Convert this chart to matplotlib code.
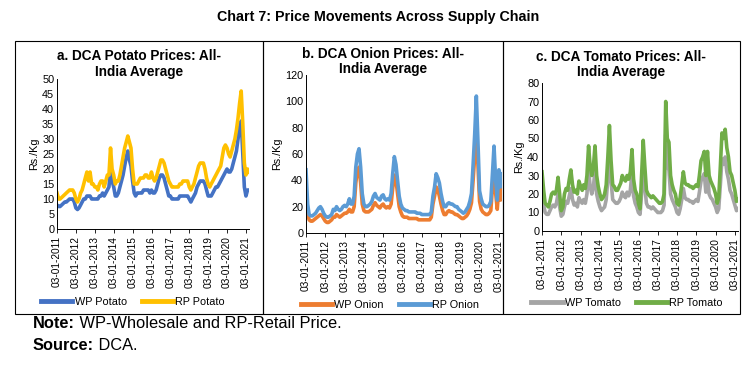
import pandas as pd
import matplotlib.pyplot as plt
import matplotlib.dates as mdates
from matplotlib.patches import Rectangle
from matplotlib.text import Annotation

plt.rcParams['font.family'] = ['Liberation Sans', 'DejaVu Sans']

# monthly points, Jan 2011 - Mar 2021
dates = pd.date_range('2011-01-01', '2021-03-01', freq='MS')

wp_potato = [8, 7.5, 7.5, 8, 8.5, 9, 9, 9.5, 10, 10, 10, 9,
             7, 6.5, 7, 8, 9, 10, 10, 11, 11, 11, 10, 10,
             10, 10, 10, 11, 11, 12, 11, 12, 13, 14, 20, 16,
             14, 11, 11, 12, 14, 16, 18, 21, 24, 26, 23, 21,
             16, 12, 11, 12, 12, 12, 12, 13, 13, 13, 13, 12,
             13, 12, 12, 13, 15, 17, 18, 18, 17, 15, 13, 11,
             11, 10, 10, 10, 10, 10, 11, 11, 11, 11, 11, 11,
             10, 9, 10, 11, 12, 14, 15, 16, 16, 16, 15, 13,
             11, 11, 11, 12, 13, 14, 14, 15, 16, 17, 18, 19,
             20, 19, 19, 20, 22, 24, 26, 30, 34, 36, 25, 14,
             11, 13, 13]
rp_potato = [12, 10, 10, 10.5, 11, 11.5, 12, 12.5, 13, 13, 13, 12,
             10, 9, 10, 12, 13, 15, 17, 19, 16, 19, 15, 15,
             14, 14, 13, 15, 16, 16, 14, 16, 18, 18, 27, 20,
             18, 15, 16, 16, 18, 21, 24, 27, 29, 31, 29, 27,
             20, 15, 15, 15, 16, 17, 17, 17, 18, 18, 17, 17,
             19, 17, 16, 17, 19, 21, 23, 23, 22, 20, 18, 16,
             15, 14, 14, 14, 14, 14, 15, 15, 16, 16, 16, 16,
             14, 13, 14, 15, 17, 19, 21, 22, 22, 22, 20, 17,
             15, 14, 15, 16, 17, 18, 19, 20, 21, 24, 27, 28,
             27, 25, 24, 26, 28, 30, 33, 37, 42, 46, 35, 22,
             18, 20, 19]

wp_onion = [30, 15, 10, 9, 9, 10, 11, 12, 13, 14, 13, 11,
            9, 8, 8, 9, 10, 12, 12, 14, 13, 12, 13, 14,
            15, 15, 16, 18, 16, 16, 20, 38, 48, 50, 38, 22,
            17, 16, 16, 16, 17, 18, 21, 23, 21, 20, 19, 21,
            22, 20, 19, 20, 19, 22, 34, 44, 40, 30, 20, 16,
            13, 12, 12, 12, 11, 11, 11, 11, 11, 11, 10, 10,
            10, 10, 10, 10, 10, 10, 12, 22, 28, 35, 33, 28,
            22, 17, 14, 14, 16, 17, 16, 16, 15, 14, 14, 13,
            12, 11, 11, 12, 13, 15, 18, 23, 40, 58, 80, 52,
            24, 18, 16, 15, 14, 14, 15, 17, 34, 50, 30, 18,
            35, 25, 33]
rp_onion = [48, 22, 14, 13, 13, 14, 15, 17, 19, 20, 18, 15,
            13, 12, 12, 13, 14, 18, 17, 20, 18, 17, 18, 20,
            21, 20, 22, 26, 22, 22, 28, 50, 60, 64, 50, 30,
            22, 20, 20, 21, 22, 24, 28, 30, 27, 26, 25, 28,
            29, 26, 25, 26, 25, 30, 45, 58, 52, 40, 28, 22,
            19, 18, 17, 17, 16, 16, 16, 16, 16, 15, 15, 15,
            14, 14, 14, 14, 14, 14, 16, 28, 35, 45, 42, 38,
            30, 24, 20, 20, 22, 23, 22, 22, 21, 20, 20, 18,
            17, 16, 15, 16, 18, 20, 24, 30, 52, 75, 104, 70,
            32, 26, 22, 21, 20, 20, 21, 24, 45, 66, 40, 25,
            48, 35, 45]

wp_tomato = [21, 14, 10, 9, 9, 11, 13, 14, 13, 15, 20, 13,
             8, 9, 13, 16, 15, 19, 23, 17, 14, 15, 13, 18,
             16, 15, 17, 15, 20, 33, 24, 20, 24, 33, 20, 16,
             13, 11, 12, 13, 17, 28, 42, 27, 17, 16, 15, 15,
             16, 18, 21, 19, 18, 21, 19, 22, 32, 19, 15, 13,
             10, 9, 20, 36, 24, 15, 13, 13, 12, 13, 12, 11,
             10, 10, 10, 11, 14, 52, 35, 33, 20, 17, 15, 13,
             10, 9, 12, 17, 23, 18, 17, 17, 16, 16, 15, 16,
             17, 16, 21, 27, 29, 31, 21, 31, 20, 18, 17, 15,
             13, 10, 12, 25, 39, 36, 40, 32, 28, 22, 20, 17,
             14, 11, 12]
rp_tomato = [32, 22, 15, 14, 13, 16, 20, 21, 20, 22, 29, 20,
             11, 13, 20, 23, 22, 28, 33, 25, 21, 22, 20, 27,
             24, 22, 25, 23, 30, 46, 35, 30, 35, 46, 30, 24,
             20, 17, 18, 20, 25, 40, 57, 38, 25, 24, 22, 22,
             24, 26, 30, 28, 27, 30, 28, 32, 44, 28, 22, 20,
             15, 12, 30, 49, 35, 22, 20, 19, 18, 19, 18, 17,
             16, 15, 15, 16, 20, 70, 50, 48, 30, 25, 22, 20,
             15, 14, 18, 25, 32, 26, 25, 25, 24, 24, 23, 24,
             25, 24, 30, 38, 40, 43, 30, 43, 30, 27, 25, 23,
             20, 15, 18, 35, 53, 50, 55, 45, 40, 32, 30, 26,
             22, 16, 17]

tick_dates = pd.date_range('2011-01-03', periods=11, freq=pd.DateOffset(years=1))

W, H = 755, 367
fig = plt.figure(figsize=(W / 100, H / 100), dpi=100)

def fx(px):
    return px / W

def fy(py):
    return 1 - py / H

fig.text(fx(378), fy(17), 'Chart 7: Price Movements Across Supply Chain',
         ha='center', va='center', fontsize=10.3, fontweight='bold')

# panel boxes
for x0, x1 in [(15, 263), (263, 503), (503, 740)]:
    fig.add_artist(Rectangle((fx(x0), fy(314)), fx(x1) - fx(x0), fy(41) - fy(314),
                             transform=fig.transFigure, fill=False, lw=0.8, ec='black'))

panels = [
    dict(box=(57, 249, 79, 229), cx=139, ty=(56, 72),
         title='a. DCA Potato Prices: All-\nIndia Average', ymax=50, step=5,
         wp=wp_potato, rp=rp_potato, names=('WP Potato', 'RP Potato'),
         colors=('#4472C4', '#FFC000'), leg=(133, 302)),
    dict(box=(306, 502, 75, 233), cx=383, ty=(54, 69),
         title='b. DCA Onion Prices: All-\nIndia Average', ymax=120, step=20,
         wp=wp_onion, rp=rp_onion, names=('WP Onion', 'RP Onion'),
         colors=('#ED7D31', '#5B9BD5'), leg=(390, 305)),
    dict(box=(542, 738, 83, 231), cx=621, ty=(57, 72),
         title='c. DCA Tomato Prices: All-\nIndia Average', ymax=80, step=10,
         wp=wp_tomato, rp=rp_tomato, names=('WP Tomato', 'RP Tomato'),
         colors=('#A5A5A5', '#70AD47'), leg=(627, 303)),
]

for p in panels:
    l, r, t, b = p['box']
    ax = fig.add_axes([fx(l), fy(b), fx(r) - fx(l), fy(t) - fy(b)])
    ax.plot(dates, p['wp'], color=p['colors'][0], lw=2.6, label=p['names'][0])
    ax.plot(dates, p['rp'], color=p['colors'][1], lw=2.6, label=p['names'][1])
    ax.set_xlim(pd.Timestamp('2011-01-01'), pd.Timestamp('2021-03-01'))
    ax.set_ylim(0, p['ymax'])
    ax.set_yticks(range(0, p['ymax'] + 1, p['step']))
    ax.set_xticks(tick_dates)
    ax.xaxis.set_major_formatter(mdates.DateFormatter('%d-%m-%Y'))
    ax.tick_params(axis='x', labelsize=7.3, rotation=90, length=3, width=0.6, pad=2)
    ax.tick_params(axis='y', labelsize=7.8, length=0, pad=2)
    for s in ['top', 'right']:
        ax.spines[s].set_visible(False)
    for s in ['left', 'bottom']:
        ax.spines[s].set_linewidth(0.7)
    ax.set_ylabel('Rs./Kg', fontsize=7.8, labelpad=2)
    ax.set_facecolor('none')
    fig.text(fx(p['cx']), fy((p['ty'][0] + p['ty'][1]) / 2), p['title'],
             ha='center', va='center', fontsize=9.8, fontweight='bold', linespacing=1.1)
    ax.legend(loc='center', bbox_to_anchor=(fx(p['leg'][0]), fy(p['leg'][1])),
              bbox_transform=fig.transFigure, ncol=2, frameon=False, fontsize=7.8,
              handlelength=2.9, handletextpad=0.2, columnspacing=1.4,
              borderpad=0, borderaxespad=0)
    for line in ax.get_legend().get_lines():
        line.set_linewidth(3.5)

note = fig.text(fx(33), fy(324), 'Note:', ha='left', va='center',
                fontsize=11.8, fontweight='bold')
fig.add_artist(Annotation(' WP-Wholesale and RP-Retail Price.', xy=(1, 0.5),
                          xycoords=note, ha='left', va='center', fontsize=11.8))
src = fig.text(fx(33), fy(346), 'Source:', ha='left', va='center',
               fontsize=11.8, fontweight='bold')
fig.add_artist(Annotation(' DCA.', xy=(1, 0.5), xycoords=src,
                          ha='left', va='center', fontsize=11.8))

fig.savefig('out.png', dpi=100)
